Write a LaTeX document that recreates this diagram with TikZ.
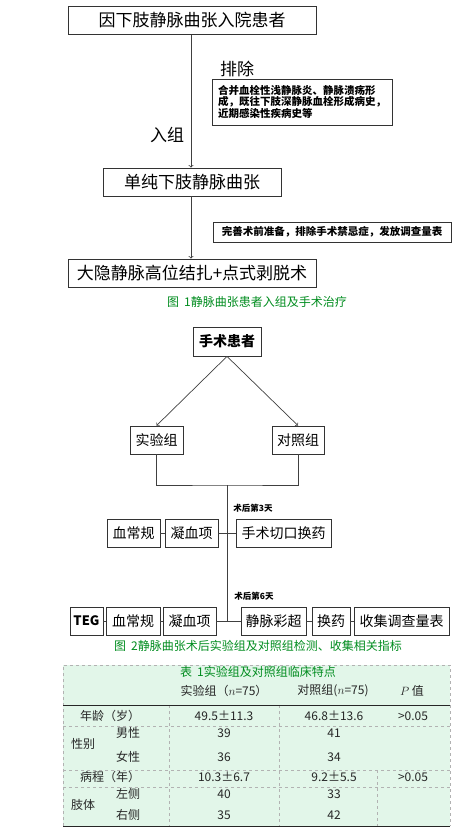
\documentclass[tikz,border=0pt]{standalone}
\usepackage{fontspec}
\setmainfont{Noto Sans CJK SC}
\definecolor{capgreen}{RGB}{0,140,30}
\definecolor{tabbg}{RGB}{226,246,233}

\tikzset{
  bigbox/.style={draw=black!80,line width=0.8pt,inner sep=0pt,minimum height=28pt,font=\fontsize{17}{20}\selectfont},
  midbox/.style={draw=black!80,line width=0.8pt,inner sep=0pt,minimum height=28pt,font=\fontsize{14}{16}\selectfont},
  notebox/.style={draw=black!80,line width=0.8pt,inner xsep=6pt,inner ysep=3pt,align=left,font=\bfseries\fontsize{10.5}{11.8}\selectfont},
  daytag/.style={font=\bfseries\fontsize{8.5}{10}\selectfont},
  figcap/.style={text=capgreen,font=\fontsize{12}{14}\selectfont},
  cell/.style={text=black!85,font=\fontsize{12}{14}\selectfont},
  gridline/.style={black!30,dashed,line width=0.5pt},
}

\begin{document}
\begin{tikzpicture}[x=1pt,y=-1pt,>=to]
\useasboundingbox (0,0) rectangle (465,827);

% figure 1
\node[bigbox,minimum width=248pt] (adm)  at (192,20.5) {因下肢静脉曲张入院患者};
\node[bigbox,minimum width=178pt] (vv)   at (192,182) {单纯下肢静脉曲张};
\node[bigbox,minimum width=248pt] (surg) at (192,273) {大隐静脉高位结扎+点式剥脱术};
\node[font=\fontsize{17}{20}\selectfont] (excl) at (237,69) {排除};
\node[notebox,minimum width=178pt,minimum height=46pt] (why) at (302,102)
  {合并血栓性浅静脉炎、静脉溃疡形\\成，既往下肢深静脉血栓形成病史，\\近期感染性疾病史等};
\node[font=\fontsize{17}{20}\selectfont] (incl) at (167,135) {入组};
\node[notebox,minimum width=238pt,minimum height=20pt] (prep) at (332,232)
  {完善术前准备，排除手术禁忌症，发放调查量表};
\node[figcap] (cap1) at (257,302) {图\hspace{5pt}1静脉曲张患者入组及手术治疗};

\draw[->,black!75,line width=0.8pt] (adm.south -| 191,0) -- (vv.north -| 191,0);
\draw[->,black!75,line width=0.8pt] (vv.south -| 191,0) -- (surg.north -| 191,0);

% figure 2
\node[midbox,minimum width=68pt,minimum height=29pt,font=\bfseries\fontsize{14}{16}\selectfont] (pat) at (227,341.5) {手术患者};
\node[midbox,minimum width=53pt] (exp) at (156.5,440) {实验组};
\node[midbox,minimum width=52pt] (ctl) at (298,440) {对照组};
\draw[->,black!75,line width=0.7pt] (pat.south) -- (exp.north);
\draw[->,black!75,line width=0.7pt] (pat.south) -- (ctl.north);

\coordinate (join) at (227.5,485);
\coordinate (foot) at (227.5,621);
\draw[black!75,line width=0.7pt] (exp.south) |- (join) -| (ctl.south);
\draw[black!75,line width=0.7pt] (join) -- (foot);

\node[daytag] (d3) at (253,508) {术后第3天};
\node[midbox,minimum width=53pt] (bl1) at (133.5,533) {血常规};
\node[midbox,minimum width=53pt] (co1) at (191.5,533) {凝血项};
\node[midbox,minimum width=95pt] (dr1) at (283.5,533) {手术切口换药};
\draw[black!75,line width=0.7pt] (bl1) -- (co1);
\draw[black!75,line width=0.7pt] (co1) -- (dr1);

\node[daytag] (d6) at (254,596) {术后第6天};
\node[midbox,minimum width=33pt,font=\bfseries\fontsize{13}{16}\selectfont] (teg) at (86.5,621) {TEG};
\node[midbox,minimum width=54pt] (bl2) at (133,621) {血常规};
\node[midbox,minimum width=53pt] (co2) at (189.5,621) {凝血项};
\node[midbox,minimum width=65pt] (us)  at (273.5,621) {静脉彩超};
\node[midbox,minimum width=38pt] (dr2) at (331,621) {换药};
\node[midbox,minimum width=95pt] (svy) at (401.5,621) {收集调查量表};
\draw[black!75,line width=0.7pt] (teg) -- (bl2);
\draw[black!75,line width=0.7pt] (bl2) -- (co2);
\draw[black!75,line width=0.7pt] (co2) -- (us);
\draw[black!75,line width=0.7pt] (us) -- (dr2);
\draw[black!75,line width=0.7pt] (dr2) -- (svy);
\node[figcap] (cap2) at (258,646) {图\hspace{5pt}2静脉曲张术后实验组及对照组检测、收集相关指标};

% table 1
\fill[tabbg] (63,665) rectangle (450,826);
\draw[gridline] (63,826) -- (63,665) -- (450,665) -- (450,826);
\draw[gridline] (63,726) -- (450,726);
\draw[gridline] (63,770) -- (450,770);
\draw[gridline] (63,787) -- (450,787);
\draw[gridline] (169,705) -- (169,826);
\draw[gridline] (279,705) -- (279,826);
\draw[gridline] (377,770) -- (377,826);
\draw[black!85,line width=1pt] (63,705) -- (450,705);
\draw[black!85,line width=1pt] (63,826) -- (450,826);

\node[figcap] (tcap) at (258,672) {表\hspace{5pt}1实验组及对照组临床特点};
\node[cell] (hexp) at (224,691) {实验组（$n$=75）};
\node[cell] (hctl) at (333,691) {对照组($n$=75)};
\node[cell] (hp)   at (412,691) {$P$ 值};

\node[cell] (age)  at (110,716) {年龄（岁）};
\node[cell] (agee) at (224,716) {49.5±11.3};
\node[cell] (agec) at (334,716) {46.8±13.6};
\node[cell] (agep) at (413,716) {>0.05};

\node[cell] (sex)  at (83,744)  {性别};
\node[cell] (male) at (128,733) {男性};
\node[cell] (fem)  at (128,757) {女性};
\node[cell] (me)   at (224,733) {39};
\node[cell] (mc)   at (334,733) {41};
\node[cell] (fe)   at (224,757) {36};
\node[cell] (fc)   at (334,757) {34};

\node[cell] (dur)  at (110,777) {病程（年）};
\node[cell] (dure) at (224,777) {10.3±6.7};
\node[cell] (durc) at (334,777) {9.2±5.5};
\node[cell] (durp) at (413,777) {>0.05};

\node[cell] (limb) at (83,805)  {肢体};
\node[cell] (lft)  at (128,794) {左侧};
\node[cell] (rgt)  at (128,815) {右侧};
\node[cell] (le)   at (224,794) {40};
\node[cell] (lc)   at (334,794) {33};
\node[cell] (re)   at (224,815) {35};
\node[cell] (rc)   at (334,815) {42};
\end{tikzpicture}
\end{document}
